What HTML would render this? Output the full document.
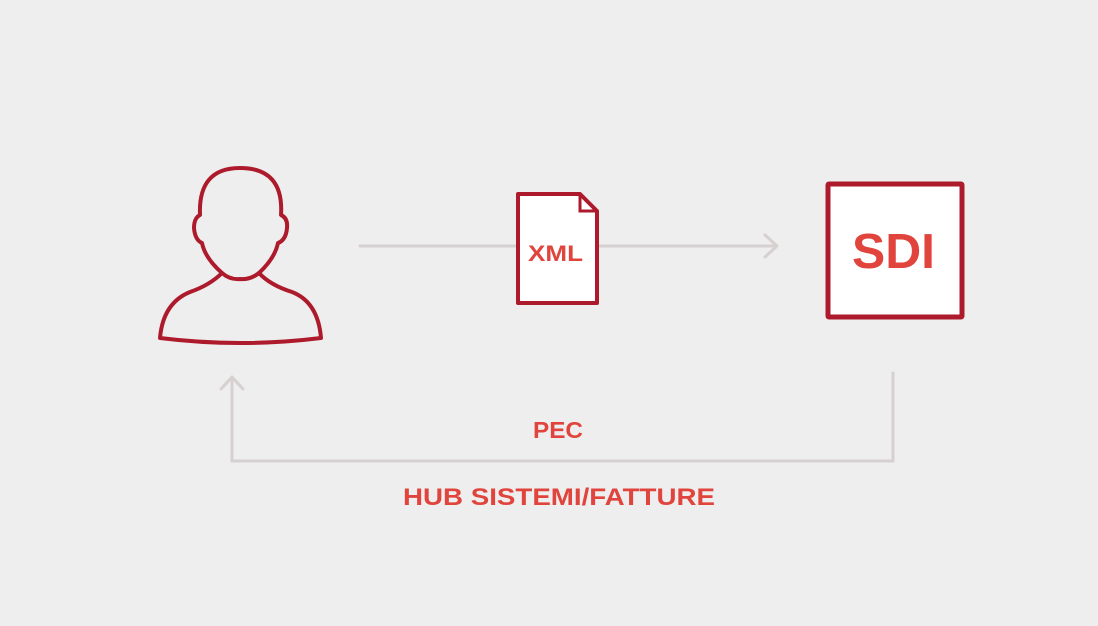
<!DOCTYPE html>
<html><head><meta charset="utf-8"><style>
html,body{margin:0;padding:0;background:#eeeeee;}
svg{display:block;}
text{font-family:"Liberation Sans","DejaVu Sans",sans-serif;font-weight:bold;fill:#e0443c;}
</style></head><body>
<svg width="1098" height="626" viewBox="0 0 1098 626">
<rect width="1098" height="626" fill="#eeeeee"/>
<g stroke="#d6d0d1" stroke-width="3" fill="none" stroke-linecap="round" stroke-linejoin="round">
<line x1="360" y1="246" x2="776" y2="246"/>
<polyline points="765,235 777,246 765,257"/>
<polyline points="893,373 893,461 232,461 232,378"/>
<polyline points="221,389 232,377 243,389"/>
</g>
<g stroke="#ad1a2c" stroke-width="4" fill="none" stroke-linejoin="round" stroke-linecap="round">
<path d="M222,273 Q205,258 202,243 Q195,240 194,228 Q194,218 200,215 Q198,168 240,168 Q284,168 281,215 Q288,218 287,228 Q286,240 278,243 Q275,258 259,273 Q250,280 240,279 Q230,280 222,273 Z"/>
<path d="M222,273 Q210,285 190,292 Q163,303 160,338 Q240,348 321,338 Q318,302 292,292 Q270,285 259,273"/>
</g>
<path d="M518,194 L580,194 L597,211 L597,303 L518,303 Z" fill="#ffffff" stroke="#ad1a2c" stroke-width="4" stroke-linejoin="round"/>
<path d="M580,194 L580,211 L597,211" fill="none" stroke="#ad1a2c" stroke-width="3"/>
<text x="528" y="261" font-size="22" textLength="55" lengthAdjust="spacingAndGlyphs">XML</text>
<rect x="828" y="184" width="134" height="133" fill="#ffffff" stroke="#ad1a2c" stroke-width="5" rx="1"/>
<text x="852" y="268" font-size="49" textLength="83" lengthAdjust="spacingAndGlyphs">SDI</text>
<text x="533" y="438" font-size="23" textLength="50" lengthAdjust="spacingAndGlyphs">PEC</text>
<text x="403" y="505" font-size="24" textLength="312" lengthAdjust="spacingAndGlyphs">HUB SISTEMI/FATTURE</text>
</svg>
</body></html>
